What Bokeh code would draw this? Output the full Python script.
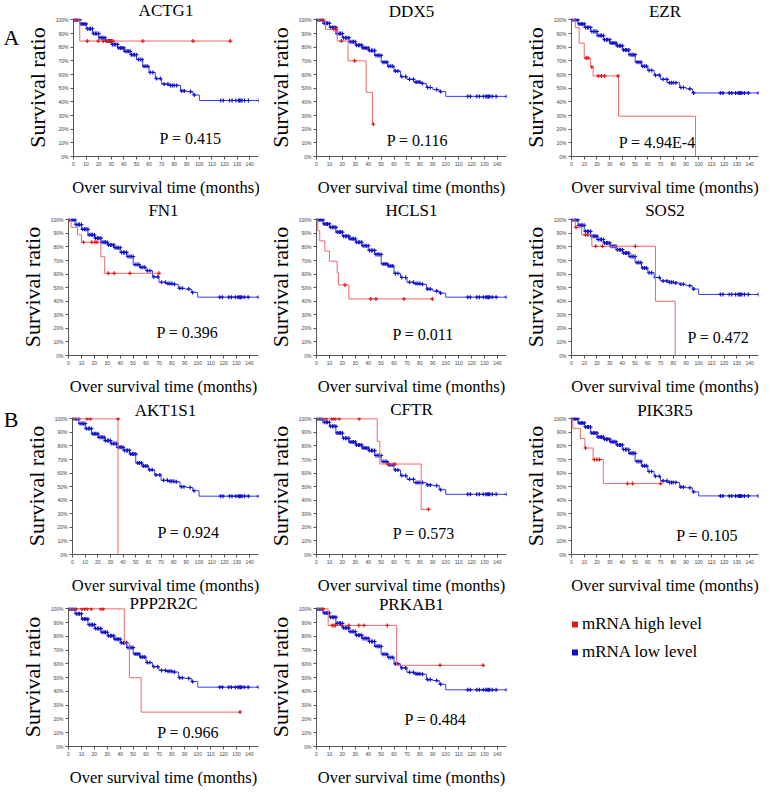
import numpy as np
from bokeh.plotting import figure
from bokeh.layouts import column, row
from bokeh.models import (Range1d, FixedTicker, NumeralTickFormatter, Label,
                          Legend, LegendItem, LinearAxis)
from bokeh.embed import file_html
from bokeh.resources import INLINE

# ---------------- data ----------------
GENES = ["ACTG1", "DDX5", "EZR", "FN1", "HCLS1", "SOS2",
         "AKT1S1", "CFTR", "PIK3R5", "PPP2R2C", "PRKAB1"]
P_VALUES = ["0.415", "0.116", "4.94E-4", "0.396", "0.011", "0.472",
            "0.924", "0.573", "0.105", "0.966", "0.484"]
GROUP_LABELS = ["A", "B"]
LEGEND_LABELS = ["mRNA high level", "mRNA low level"]
X_TICKS = [0, 10, 20, 30, 40, 50, 60, 70, 80, 90, 100, 110, 120, 130, 140]
Y_TICKS = [0.0, 0.1, 0.2, 0.3, 0.4, 0.5, 0.6, 0.7, 0.8, 0.9, 1.0]
X_LABEL = "Over survival time (months)"
Y_LABEL = "Survival ratio"

# low-expression group (blue), survival % at these months
LOW_TIMES = [0, 5, 10, 15, 20, 25, 30, 35, 40, 45, 50, 55, 60, 65, 70, 75, 80, 85, 90, 95, 100, 147]
ACTG1_LOW = [100, 97, 93.5, 90, 87, 84.5, 82, 79.5, 77, 74.5, 71, 66, 61.5, 57, 53, 52, 52, 48, 47.5, 45, 41, 41]
DDX5_LOW = [100, 97.5, 94.5, 90, 87, 84, 81.5, 79.5, 77.5, 74, 69, 66, 62.5, 58.5, 56.5, 54.5, 53.5, 50.5, 49, 47.5, 44, 44]
EZR_LOW = [100, 97, 94.5, 91.5, 88.5, 85.5, 83, 81, 78, 74.5, 69, 66, 63, 59.5, 56.5, 54, 54, 50.5, 49.5, 46.5, 46.5, 46.5]
FN1_LOW = [100, 96.5, 93, 89, 86.5, 83.5, 81.5, 79.5, 76, 73, 67, 65, 62.5, 58, 54, 53, 52.5, 49.5, 49, 46.5, 43, 43]
HCLS1_LOW = [100, 97, 94.5, 91, 88, 86, 83.5, 81, 77.5, 74.5, 67.5, 66, 60.5, 57.5, 54, 53, 52.5, 49, 47.5, 46, 43, 43]
SOS2_LOW = [100, 96, 91.5, 88, 85.5, 83, 80.5, 78, 75.5, 73, 68.5, 64.5, 61, 57.5, 55, 54, 53.5, 52.5, 51.5, 49, 45, 45]
AKT1S1_LOW = [100, 96.5, 92.8, 89, 86.4, 84, 81.8, 79, 76.7, 74, 67.5, 65.2, 62.4, 58.7, 54.7, 54, 53.6, 50, 49.4, 47, 43, 43]
CFTR_LOW = [100, 97.5, 94.5, 89.5, 85.7, 83, 80.7, 78.5, 76.6, 73, 68.5, 66.2, 62.3, 58.2, 55.4, 53, 53, 51.3, 50.8, 47.8, 44.4, 44.4]
PIK3R5_LOW = [100, 97, 94, 89.5, 86.6, 85, 83.1, 80.8, 77.4, 74.6, 68.6, 65.4, 61.2, 57.7, 54.3, 53.1, 53.1, 49.7, 49.2, 46.2, 43.2, 43.2]
PPP2R2C_LOW = [100, 96.5, 92.6, 88.5, 85.7, 83, 80.4, 78, 75.3, 71.9, 67.3, 65, 61, 58, 55.3, 54.6, 54.1, 50, 49.5, 47.2, 43.1, 43.1]
PRKAB1_LOW = [100, 97, 94, 89.5, 86.2, 83.5, 80.9, 78.5, 76.3, 72.8, 67, 64.7, 60.1, 57.1, 53.9, 52.8, 52.5, 48.6, 47.9, 45.2, 41.2, 41.2]
LOW_CENSOR = [1, 2.5, 3.5, 5, 6, 7.5, 8.5, 10, 11, 12.5, 13.5, 15, 16, 17.5, 18.5, 20, 21, 22.5,
              23.5, 25, 26, 27.5, 28.5, 30, 31, 32.5, 33.5, 35, 36, 37.5, 38.5, 40, 41, 42.5, 43.5,
              45, 46, 47.5, 48.5, 50, 51.5, 53, 54.5, 56, 57.5, 59, 61, 63, 66, 69, 72, 75, 77,
              78.5, 80, 82, 86, 88, 93, 96, 117, 119, 124, 126, 129, 131, 132, 133, 134, 136, 139, 147]

# high-expression group (red): event months, survival %, censor months
ACTG1_HIGH_T = [0, 5, 124.6]
ACTG1_HIGH_S = [100, 84.5, 84.5]
ACTG1_HIGH_C = [2, 11, 19.6, 23.6, 26.2, 29.5, 31.3, 55, 95, 124.6]
DDX5_HIGH_T = [0, 7, 16, 24.4, 38.4, 43.3, 44]
DDX5_HIGH_S = [100, 93, 84.5, 70, 47, 23.6, 23.6]
DDX5_HIGH_C = [4.6, 13.5, 15.3, 19.3, 29.5, 44]
EZR_HIGH_T = [0, 3, 6, 10, 15, 17, 37, 97.5]
EZR_HIGH_S = [100, 94.5, 83, 72, 65.5, 59, 29.5, 0]
EZR_HIGH_C = [11.5, 13, 16, 21, 23.5, 26, 36.5]
FN1_HIGH_T = [0, 2, 7, 10, 25, 28, 70]
FN1_HIGH_S = [100, 94.5, 89, 83.5, 72.8, 60.6, 60.6]
FN1_HIGH_C = [11.6, 18, 20.5, 22, 30.8, 35.4, 47.5, 70]
HCLS1_HIGH_T = [0, 1, 2.5, 6.5, 10, 16, 17, 25, 89.6]
HCLS1_HIGH_S = [100, 92, 84.5, 77, 69.5, 61, 52, 41.7, 41.7]
HCLS1_HIGH_C = [22, 42, 46, 67.6, 89.6]
SOS2_HIGH_T = [0, 3, 8, 16, 66, 81.5]
SOS2_HIGH_S = [100, 94.5, 89, 80.5, 40, 0]
SOS2_HIGH_C = [3.6, 10.9, 12.7, 19, 24.3, 50.2]
AKT1S1_HIGH_T = [0, 36]
AKT1S1_HIGH_S = [100, 0]
AKT1S1_HIGH_C = [11.5, 14.1, 36]
CFTR_HIGH_T = [0, 47, 49, 81, 86.6]
CFTR_HIGH_S = [100, 83.3, 66.7, 33.3, 33.3]
CFTR_HIGH_C = [7.4, 11.8, 13, 14.5, 17.6, 33, 55.4, 60.6, 86.6]
PIK3R5_HIGH_T = [0, 1, 7, 10.5, 17, 25, 70]
PIK3R5_HIGH_S = [100, 93, 85.5, 78.5, 70, 52.3, 52.3]
PIK3R5_HIGH_C = [11, 18, 20, 22, 44, 48, 70]
PPP2R2C_HIGH_T = [0, 43.2, 47.1, 56.2, 132.7]
PPP2R2C_HIGH_S = [100, 75, 50, 25, 25]
PPP2R2C_HIGH_C = [6, 10.4, 12.5, 14.5, 17.7, 25, 26.8, 132.7]
PRKAB1_HIGH_T = [0, 9, 62, 129]
PRKAB1_HIGH_S = [100, 88, 59, 59]
PRKAB1_HIGH_C = [4.9, 12.1, 13.4, 14.7, 19.4, 25, 32.8, 36.7, 54.8, 95.6, 129]

LOW = {"ACTG1": ACTG1_LOW, "DDX5": DDX5_LOW, "EZR": EZR_LOW, "FN1": FN1_LOW,
       "HCLS1": HCLS1_LOW, "SOS2": SOS2_LOW, "AKT1S1": AKT1S1_LOW, "CFTR": CFTR_LOW,
       "PIK3R5": PIK3R5_LOW, "PPP2R2C": PPP2R2C_LOW, "PRKAB1": PRKAB1_LOW}
HIGH = {"ACTG1": (ACTG1_HIGH_T, ACTG1_HIGH_S, ACTG1_HIGH_C),
        "DDX5": (DDX5_HIGH_T, DDX5_HIGH_S, DDX5_HIGH_C),
        "EZR": (EZR_HIGH_T, EZR_HIGH_S, EZR_HIGH_C),
        "FN1": (FN1_HIGH_T, FN1_HIGH_S, FN1_HIGH_C),
        "HCLS1": (HCLS1_HIGH_T, HCLS1_HIGH_S, HCLS1_HIGH_C),
        "SOS2": (SOS2_HIGH_T, SOS2_HIGH_S, SOS2_HIGH_C),
        "AKT1S1": (AKT1S1_HIGH_T, AKT1S1_HIGH_S, AKT1S1_HIGH_C),
        "CFTR": (CFTR_HIGH_T, CFTR_HIGH_S, CFTR_HIGH_C),
        "PIK3R5": (PIK3R5_HIGH_T, PIK3R5_HIGH_S, PIK3R5_HIGH_C),
        "PPP2R2C": (PPP2R2C_HIGH_T, PPP2R2C_HIGH_S, PPP2R2C_HIGH_C),
        "PRKAB1": (PRKAB1_HIGH_T, PRKAB1_HIGH_S, PRKAB1_HIGH_C)}

# ---------------- layout / style ----------------
GRID_POS = {"ACTG1": (0, 0), "DDX5": (0, 1), "EZR": (0, 2),
            "FN1": (1, 0), "HCLS1": (1, 1), "SOS2": (1, 2),
            "AKT1S1": (2, 0), "CFTR": (2, 1), "PIK3R5": (2, 2),
            "PPP2R2C": (3, 0), "PRKAB1": (3, 1)}
# title: (horizontal offset px from frame centre, standoff px)
TITLE_GEOM = {"ACTG1": (6, -3), "DDX5": (5, -4), "EZR": (-10, -4),
              "FN1": (7, -3), "HCLS1": (3, -2), "SOS2": (-4, -3),
              "AKT1S1": (7, -4), "CFTR": (4, -2), "PIK3R5": (-3, -4),
              "PPP2R2C": (12, -11), "PRKAB1": (9, -13)}
P_POS = {"ACTG1": (93, 0.13), "DDX5": (78, 0.12), "EZR": (67.4, 0.105),
         "FN1": (92, 0.17), "HCLS1": (82.5, 0.155), "SOS2": (115.5, 0.133),
         "AKT1S1": (91.7, 0.165), "CFTR": (83, 0.154), "PIK3R5": (106.6, 0.14),
         "PPP2R2C": (92.6, 0.099), "PRKAB1": (92, 0.196)}
GROUP_POS = {"A": (0, 0.869), "B": (2, 0.996)}

COL_W = [259, 253, 250]
MB_LEFT = [68, 57, 59]
MB_RIGHT = [1, 6, 4]
ROW_H = [199, 199, 199, 192]
MB_TOP = [16, 16, 16, 9]
MB_BOTTOM = 40

SERIF = "Liberation Serif"
SANS = "Liberation Sans"
RED_LINE = "#f06868"
RED_MARK = "#e01818"
BLUE_LINE = "#3c3cf0"
BLUE_MARK = "#1010c8"
AXIS_COLOR = "#555555"


def surv_at(times, surv, ts):
    idx = np.searchsorted(np.asarray(times), np.asarray(ts), side="left") - 1
    idx = np.clip(idx, 0, len(surv) - 1)
    return np.asarray(surv)[idx]


def make_panel(gene, pval):
    r, c = GRID_POS[gene]
    toff, tstand = TITLE_GEOM[gene]
    p = figure(width=COL_W[c], height=ROW_H[r],
               x_range=Range1d(0, 147), y_range=Range1d(0, 1.01),
               output_backend="svg", toolbar_location=None, title=gene,
               min_border_left=MB_LEFT[c], min_border_right=MB_RIGHT[c],
               min_border_top=MB_TOP[r], min_border_bottom=MB_BOTTOM)
    p.outline_line_color = None
    p.grid.visible = False
    p.title.align = "center"
    p.title.offset = toff
    p.title.standoff = tstand
    p.title.text_font = SERIF
    p.title.text_font_size = "17px"
    p.title.text_font_style = "normal"
    p.title.text_color = "black"

    for ax in (p.xaxis[0], p.yaxis[0]):
        ax.axis_line_color = AXIS_COLOR
        ax.major_tick_line_color = AXIS_COLOR
        ax.major_tick_out = 3
        ax.major_tick_in = 0
        ax.minor_tick_line_color = None
        ax.major_label_text_font = SANS
        ax.major_label_text_font_size = "5px"
        ax.major_label_text_color = "#444444"
        ax.major_label_standoff = 2
        ax.axis_label_text_font = SERIF
        ax.axis_label_text_font_style = "normal"
        ax.axis_label_text_color = "black"

    p.xaxis.ticker = FixedTicker(ticks=X_TICKS)
    p.xaxis.axis_label = X_LABEL
    p.xaxis.axis_label_text_font_size = "16.5px"
    p.xaxis.axis_label_standoff = 9

    p.yaxis.ticker = FixedTicker(ticks=Y_TICKS)
    p.yaxis.formatter = NumeralTickFormatter(format="0%")
    p.yaxis.axis_label = Y_LABEL
    p.yaxis.axis_label_text_font_size = "22px"
    p.yaxis.axis_label_standoff = 3

    # low group
    low = np.asarray(LOW[gene]) / 100.0
    p.step(x=LOW_TIMES, y=low, mode="after", line_color=BLUE_LINE, line_width=1)
    cy = surv_at(LOW_TIMES, low, LOW_CENSOR)
    p.scatter(x=LOW_CENSOR, y=cy, marker="cross", size=4, line_width=1.2,
              line_color=BLUE_MARK)

    # high group
    ht, hs, hc = HIGH[gene]
    hs = np.asarray(hs) / 100.0
    p.step(x=ht, y=hs, mode="after", line_color=RED_LINE, line_width=1)
    hcy = surv_at(ht, hs, hc)
    p.scatter(x=hc, y=hcy, marker="cross", size=4, line_width=1.2,
              line_color=RED_MARK)

    px_, py_ = P_POS[gene]
    p.add_layout(Label(x=px_, y=py_, text="P = " + pval, text_font=SERIF,
                       text_font_size="16px", text_align="center",
                       text_baseline="middle", text_color="black"))
    for g in GROUP_LABELS:
        gr, gy = GROUP_POS[g]
        if gr == r and c == 0:
            extra = LinearAxis(ticker=FixedTicker(ticks=[gy]),
                               major_label_overrides={gy: g},
                               axis_line_color=None, major_tick_line_color=None,
                               minor_tick_line_color=None,
                               major_tick_out=0, major_tick_in=0,
                               major_label_text_font=SERIF,
                               major_label_text_font_size="22px",
                               major_label_text_color="black",
                               major_label_standoff=2)
            p.add_layout(extra, "left")
    return p


panels = {g: make_panel(g, pv) for g, pv in zip(GENES, P_VALUES)}

# legend panel
leg = figure(width=COL_W[2], height=ROW_H[3], x_range=Range1d(0, 1), y_range=Range1d(0, 1),
             x_axis_type=None, y_axis_type=None, output_backend="svg",
             toolbar_location=None, min_border=0)
leg.outline_line_color = None
leg.grid.visible = False
r_hi = leg.scatter(x=[0], y=[0], size=0, marker="square", fill_color=RED_MARK, line_color=None)
r_lo = leg.scatter(x=[0], y=[0], size=0, marker="square", fill_color=BLUE_MARK, line_color=None)
legend = Legend(items=[LegendItem(label=LEGEND_LABELS[0], renderers=[r_hi]),
                       LegendItem(label=LEGEND_LABELS[1], renderers=[r_lo])],
                location=(55, 84), padding=0, margin=0, spacing=8,
                glyph_width=15, glyph_height=20, label_height=20, label_standoff=0,
                label_text_font=SERIF, label_text_font_size="17px",
                label_text_color="black", border_line_color=None,
                background_fill_alpha=0)
leg.add_layout(legend)

rows = []
for rr in range(4):
    items = [panels[g] for g in GENES if GRID_POS[g][0] == rr]
    if rr == 3:
        items.append(leg)
    rows.append(row(*items, spacing=0))
layout = column(*rows, spacing=0)

open("out.html", "w").write(file_html(layout, INLINE))
